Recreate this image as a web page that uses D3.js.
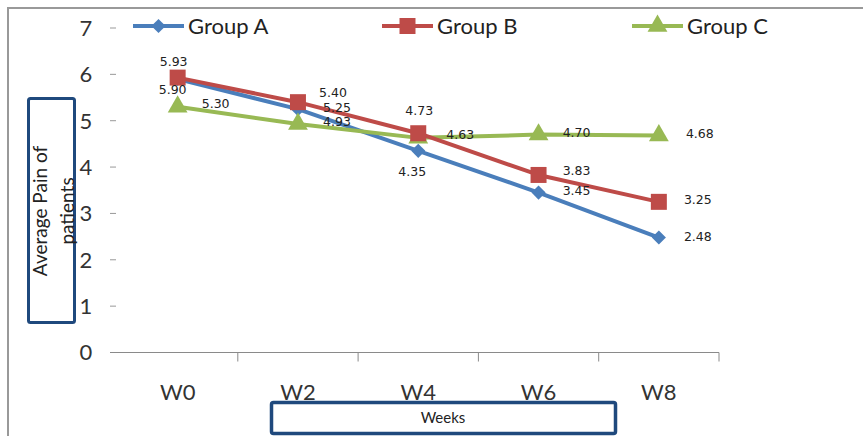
<!DOCTYPE html>
<html><head><meta charset="utf-8">
<script src="https://cdn.jsdelivr.net/npm/d3@7"></script>
<style>html,body{margin:0;padding:0;background:#fff;}svg{display:block;}</style>
</head><body>
<svg id="c" width="863" height="436"></svg>
<script>
const categories = ["W0", "W2", "W4", "W6", "W8"];
const groupA = [5.90, 5.25, 4.35, 3.45, 2.48];
const groupB = [5.93, 5.40, 4.73, 3.83, 3.25];
const groupC = [5.30, 4.93, 4.63, 4.70, 4.68];
const labelsA = ["5.90", "5.25", "4.35", "3.45", "2.48"];
const labelsB = ["5.93", "5.40", "4.73", "3.83", "3.25"];
const labelsC = ["5.30", "4.93", "4.63", "4.70", "4.68"];
const seriesNames = ["Group A", "Group B", "Group C"];
const yTicks = [0, 1, 2, 3, 4, 5, 6, 7];
const yTitle = ["Average Pain of", "patients"];
const xTitle = "Weeks";

// layout (label offsets relative to point, px)
const offA = [[-5, 11], [39, -2], [-6, 21], [38, -2], [39, -1]];
const offB = [[-4, -16], [35, -10], [1, -23], [38, -4], [39, -2]];
const offC = [[38, -3], [39, -2], [42, -3], [38, -2], [41, -2]];

const svg = d3.select("#c");
const x = d3.scaleBand().domain(categories).range([117.5, 719]);
const y = d3.scaleLinear().domain([0, 7]).range([352.5, 28]);
const font = "Lato, 'Open Sans', sans-serif";

// outer frame
svg.append("path").attr("d", "M8,436 V8 H863").attr("fill", "none").attr("stroke", "#999").attr("stroke-width", 2);

// x axis
const xAxis = d3.axisBottom(x).tickSize(9).tickFormat(d => d);
const gx = svg.append("g").attr("transform", `translate(0,${y(0)})`).call(xAxis);
gx.select(".domain").attr("d", `M110,0H719`).attr("stroke", "#8a8a8a");
gx.selectAll(".tick line").attr("stroke", "#8a8a8a").attr("transform", `translate(${x.bandwidth()/2},0)`);
gx.selectAll(".tick text").attr("y", 40).attr("dy", "0.35em").attr("font-family", font).attr("font-size", 22).attr("fill", "#333");

// y axis ticks (dashes only)
const gy = svg.append("g");
gy.selectAll("line").data(yTicks.filter(t => t > 0)).join("line")
  .attr("x1", 110).attr("x2", 116).attr("y1", d => y(d)).attr("y2", d => y(d))
  .attr("stroke", "#999").attr("stroke-width", 1);
gy.selectAll("text").data(yTicks).join("text")
  .attr("x", 86).attr("y", d => y(d)).attr("dy", "0.36em").attr("text-anchor", "middle")
  .attr("font-family", font).attr("font-size", 22).attr("fill", "#333").text(d => d);

// series
const colors = ["#4a7ebb", "#be4b48", "#98b954"];
const series = [
  {vals: groupA, labels: labelsA, off: offA, shape: d3.symbolSquare, size: 100, rot: 45},
  {vals: groupB, labels: labelsB, off: offB, shape: d3.symbolSquare, size: 256, rot: 0},
  {vals: groupC, labels: labelsC, off: offC, shape: d3.symbolTriangle, size: 170, rot: 0}
];
const line = d3.line().x((d, i) => x(categories[i]) + x.bandwidth()/2).y(d => y(d));
[0, 2, 1].forEach(si => {
  const s = series[si];
  svg.append("path").attr("d", line(s.vals)).attr("fill", "none")
    .attr("stroke", colors[si]).attr("stroke-width", 4).attr("stroke-linejoin", "round");
});
[0, 2, 1].forEach(si => {
  const s = series[si];
  svg.append("g").selectAll("path").data(s.vals).join("path")
    .attr("transform", (d, i) => `translate(${x(categories[i]) + x.bandwidth()/2},${y(d)}) rotate(${s.rot})`)
    .attr("d", d3.symbol().type(s.shape).size(s.size)).attr("fill", colors[si]);
});
series.forEach((s, si) => {
  svg.append("g").selectAll("text").data(s.vals).join("text")
    .attr("x", (d, i) => x(categories[i]) + x.bandwidth()/2 + s.off[i][0])
    .attr("y", (d, i) => y(d) + s.off[i][1])
    .attr("dy", "0.35em").attr("text-anchor", "middle")
    .attr("font-family", "'DejaVu Sans', Verdana, sans-serif").attr("font-size", 12.5).attr("fill", "#222")
    .text((d, i) => s.labels[i]);
});

// legend
const legX = [133, 382, 632];
seriesNames.forEach((n, i) => {
  const g = svg.append("g").attr("transform", `translate(${legX[i]},26)`);
  g.append("line").attr("x1", 0).attr("x2", 51).attr("stroke", colors[i]).attr("stroke-width", 4);
  g.append("path").attr("transform", `translate(25.5,0) rotate(${series[i].rot})`).attr("d", d3.symbol().type(series[i].shape).size(series[i].size)).attr("fill", colors[i]);
  g.append("text").attr("x", 55).attr("dy", "0.36em").attr("font-family", font).attr("font-size", 22).attr("fill", "#222").text(n);
});

// y title box
svg.append("rect").attr("x", 28.5).attr("y", 98.5).attr("width", 46).attr("height", 224).attr("rx", 2)
  .attr("fill", "none").attr("stroke", "#1f497d").attr("stroke-width", 3);
const yt = svg.append("text").attr("transform", "translate(40,211) rotate(-90)").attr("text-anchor", "middle")
  .attr("font-family", font).attr("font-size", 19).attr("fill", "#222");
yTitle.forEach((t, i) => yt.append("tspan").attr("x", 0).attr("y", i * 27).attr("dy", "0.35em").text(t));

// x title box
svg.append("rect").attr("x", 271.5).attr("y", 402.5).attr("width", 344).attr("height", 31).attr("rx", 2)
  .attr("fill", "#fff").attr("stroke", "#1f497d").attr("stroke-width", 3.5);
svg.append("text").attr("x", 443).attr("y", 418).attr("dy", "0.35em").attr("text-anchor", "middle")
  .attr("font-family", font).attr("font-size", 15).attr("fill", "#222").text(xTitle);
</script>
</body></html>
